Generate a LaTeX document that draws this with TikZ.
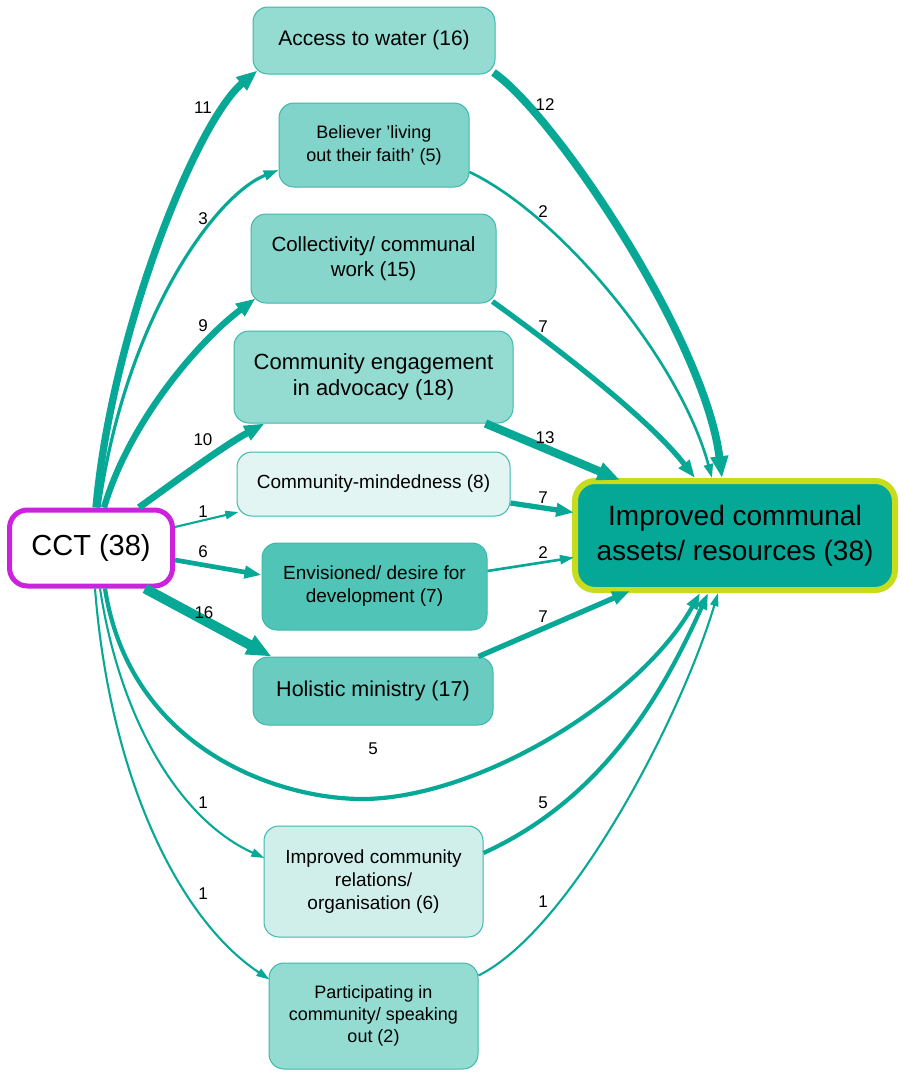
\documentclass[tikz,border=0pt]{standalone}
\usepackage{fontspec}
\setmainfont{Liberation Sans}
\usetikzlibrary{arrows.meta}
\definecolor{edgec}{RGB}{8,168,150}
\definecolor{nodeb}{RGB}{60,185,170}
\definecolor{cAccess}{RGB}{148,219,210}
\definecolor{cBeliever}{RGB}{128,212,201}
\definecolor{cCollect}{RGB}{135,214,204}
\definecolor{cEngage}{RGB}{148,219,210}
\definecolor{cMinded}{RGB}{227,245,242}
\definecolor{cEnvision}{RGB}{80,196,182}
\definecolor{cHolistic}{RGB}{106,204,192}
\definecolor{cRelations}{RGB}{208,239,234}
\definecolor{cPartic}{RGB}{148,219,210}
\definecolor{tfill}{RGB}{5,168,150}
\definecolor{tframe}{RGB}{200,220,30}
\definecolor{cctb}{RGB}{204,34,221}
\newcommand{\fsz}[2]{\fontsize{#1}{#2}\selectfont}
\begin{document}
\begin{tikzpicture}[x=1pt,y=-1pt,
  box/.style={rectangle, rounded corners=15pt, draw=nodeb, line width=1pt, inner sep=0pt, align=center, text=black},
  flow/.style={draw=edgec, line width=#1, -{Triangle[length=10pt 1.5, width=5pt 1.5]}},
  lbl/.style={font=\fsz{17}{19}, inner sep=0pt, text=black}]
\useasboundingbox[fill=white] (0,0) rectangle (904,1074);

% nodes
\node[box, fill=cAccess, minimum width=242pt, minimum height=67pt, font=\fsz{21}{25}] (access) at (374,40.5) {Access to water (16)};
\node[box, fill=cBeliever, minimum width=190pt, minimum height=84pt, font=\fsz{18}{23}] (believer) at (374,145) {Believer ’living\\out their faith’ (5)};
\node[box, fill=cCollect, minimum width=245pt, minimum height=89pt, font=\fsz{20.5}{25}] (collectivity) at (373.5,258.5) {Collectivity/ communal\\work (15)};
\node[box, fill=cEngage, minimum width=279pt, minimum height=92pt, font=\fsz{22}{26}] (engagement) at (373.5,377) {Community engagement\\in advocacy (18)};
\node[box, fill=cMinded, minimum width=273pt, minimum height=64pt, font=\fsz{19}{23}] (mindedness) at (373.5,484) {Community-mindedness (8)};
\node[box, fill=cEnvision, minimum width=225pt, minimum height=87pt, font=\fsz{19}{23}] (envisioned) at (374.5,586.5) {Envisioned/ desire for\\development (7)};
\node[box, fill=cHolistic, minimum width=240pt, minimum height=68pt, font=\fsz{21.5}{25}] (holistic) at (373,691) {Holistic ministry (17)};
\node[box, fill=cRelations, minimum width=219pt, minimum height=111pt, font=\fsz{19}{23}] (relations) at (373.5,881.5) {Improved community\\relations/\\organisation (6)};
\node[box, fill=cPartic, minimum width=209pt, minimum height=106pt, font=\fsz{18}{22}] (participating) at (373.5,1016) {Participating in\\community/ speaking\\out (2)};
\node[box, fill=white, draw=cctb, line width=5pt, rounded corners=18pt, minimum width=163pt, minimum height=76pt, font=\fsz{29}{34}] (cct) at (91,548) {CCT (38)};
\node[box, fill=tfill, draw=tframe, line width=6pt, rounded corners=20pt, minimum width=320pt, minimum height=109pt, font=\fsz{28}{35}] (target) at (735,535.5) {Improved communal\\assets/ resources (38)};

\coordinate (bend5) at (365,799);

% edges from CCT
\draw[flow=7.3pt] ([shift={(5,0)}]cct.north) .. controls (112,330) and (197,121) .. ([shift={(5,-4)}]access.south west);
\draw[flow=3.15pt] ([shift={(8,0)}]cct.north) .. controls (125,320) and (215,195) .. ([shift={(0,25)}]believer.west);
\draw[flow=6.3pt] ([shift={(13,0)}]cct.north) .. controls (130,420) and (200,340) .. ([shift={(5,-5)}]collectivity.south west);
\draw[flow=6.8pt] ([shift={(48,0)}]cct.north) .. controls (180,478) and (225,445) .. ([shift={(31,0)}]engagement.south west);
\draw[flow=2.1pt] ([shift={(0,-21)}]cct.east) -- ([shift={(2,28)}]mindedness.west);
\draw[flow=4.7pt] ([shift={(0,12)}]cct.east) -- ([shift={(0,-11.5)}]envisioned.west);
\draw[flow=9.9pt] ([shift={(54,0)}]cct.south) -- ([shift={(19,0)}]holistic.north west);
\draw[flow=4.2pt] ([shift={(14,0)}]cct.south) .. controls (130,750) and (280,800) .. (bend5) .. controls (480,797) and (640,700) .. ([shift={(128,0)}]target.south west);
\draw[flow=2.1pt] ([shift={(9,0)}]cct.south) .. controls (120,720) and (180,820) .. ([shift={(1,-23.5)}]relations.west);
\draw[flow=2.1pt] ([shift={(4,0)}]cct.south) .. controls (110,780) and (180,920) .. ([shift={(1,17)}]participating.north west);

% edges to target
\draw[flow=7.85pt] ([shift={(-2,-2)}]access.south east) .. controls (555,115) and (705,340) .. ([shift={(150,0)}]target.north west);
\draw[flow=2.65pt] ([shift={(0,27)}]believer.east) .. controls (560,215) and (680,360) .. ([shift={(140,0)}]target.north west);
\draw[flow=5.25pt] ([shift={(-4,-2)}]collectivity.south east) .. controls (560,350) and (650,420) .. ([shift={(123,0)}]target.north west);
\draw[flow=8.35pt] ([shift={(-28,0)}]engagement.south east) -- ([shift={(48,2)}]target.north west);
\draw[flow=5.25pt] ([shift={(0,19)}]mindedness.east) -- ([shift={(2,-23)}]target.west);
\draw[flow=2.65pt] ([shift={(0,-15.5)}]envisioned.east) -- ([shift={(2,22)}]target.west);
\draw[flow=5.25pt] ([shift={(-15,0)}]holistic.north east) -- ([shift={(58,-2)}]target.south west);
\draw[flow=4.2pt] ([shift={(0,-28.5)}]relations.east) .. controls (600,800) and (660,700) .. ([shift={(136,0)}]target.south west);
\draw[flow=2.1pt] ([shift={(0,13)}]participating.north east) .. controls (570,930) and (680,720) .. ([shift={(146,0)}]target.south west);

% labels
\node[lbl] (l01) at (203,108) {11};
\node[lbl] (l02) at (203,219) {3};
\node[lbl] (l03) at (203,326) {9};
\node[lbl] (l04) at (203,440) {10};
\node[lbl] (l05) at (203,512) {1};
\node[lbl] (l06) at (203,552) {6};
\node[lbl] (l07) at (204,613) {16};
\node[lbl] (l08) at (373,749) {5};
\node[lbl] (l09) at (203,803) {1};
\node[lbl] (l10) at (203,894) {1};
\node[lbl] (l11) at (545,105) {12};
\node[lbl] (l12) at (543,212) {2};
\node[lbl] (l13) at (543,327) {7};
\node[lbl] (l14) at (545,438) {13};
\node[lbl] (l15) at (543,498) {7};
\node[lbl] (l16) at (543,553) {2};
\node[lbl] (l17) at (543,617) {7};
\node[lbl] (l18) at (543,803) {5};
\node[lbl] (l19) at (543,902) {1};
\end{tikzpicture}
\end{document}
